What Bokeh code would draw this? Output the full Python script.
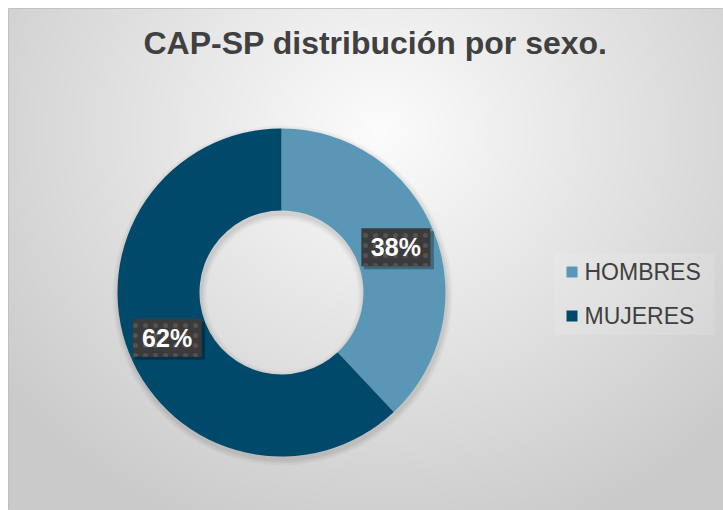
import numpy as np
from bokeh.plotting import figure
from bokeh.models import Range1d, ColumnDataSource
from bokeh.core.properties import value
from bokeh.embed import file_html
from bokeh.resources import INLINE

title_text = "CAP-SP distribución por sexo."
categories = ["HOMBRES", "MUJERES"]
percents = [38, 62]
colors = ["#5A96B5", "#01496A"]
label_texts = [f"{v}%" for v in percents]

W, H = 715, 502
p = figure(width=W + 8, height=H + 8, x_range=Range1d(0, W), y_range=Range1d(0, H),
           output_backend="svg", toolbar_location=None,
           min_border_left=8, min_border_top=8, min_border_right=0, min_border_bottom=0)
p.axis.visible = False
p.grid.visible = False
p.outline_line_color = "#bcbcbc"
p.background_fill_color = "#dcdcdc"
p.border_fill_color = "#ffffff"

# radial gradient background (styling)
yy, xx = np.mgrid[0:H, 0:W]
sx = xx + 8.5
sy = 510 - (yy + 0.5)
d = np.hypot(sx - 380, (sy - 130) * 1.1)
t = np.clip(d / 480.0, 0, 1)
g = (252 - 50 * t).astype(np.uint32)
img = (np.uint32(255) << 24) | (g << 16) | (g << 8) | g
p.image_rgba(image=[img], x=0, y=0, dw=W, dh=H)

# donut
cx, cy = 273, 218
r_in, r_out = 82, 164
frac = np.array(percents, dtype=float) / sum(percents)
cum = np.cumsum(frac)
prev = cum - frac
start = np.pi / 2 - 2 * np.pi * cum
end = np.pi / 2 - 2 * np.pi * prev
mid = (start + end) / 2
rm = (r_in + r_out) / 2
lx = cx + rm * np.cos(mid)
ly = cy + rm * np.sin(mid)

# soft shadow under donut
for k, a in [(6, 0.03), (4, 0.04), (2, 0.05)]:
    p.annulus(x=cx + 1, y=cy - 3, inner_radius=r_in - k, outer_radius=r_out + k,
              fill_color="black", fill_alpha=a, line_color=None)

src = ColumnDataSource(dict(cat=categories, start=start, end=end, color=colors))
p.annular_wedge(x=cx, y=cy, inner_radius=r_in, outer_radius=r_out,
                start_angle="start", end_angle="end", fill_color="color",
                line_color=None, source=src)

# data labels
lsrc = ColumnDataSource(dict(x=lx, y=ly, sx=lx + 3, sy=ly - 3, lab=label_texts))
p.rect(x="sx", y="sy", width=70, height=38, fill_color="black", fill_alpha=0.3,
       line_color=None, source=lsrc)
p.rect(x="x", y="y", width=69, height=38, fill_color="#3b3b3b", line_color=None,
       hatch_pattern="dot", hatch_color="#525252", hatch_scale=10, hatch_weight=1,
       source=lsrc)
p.text(x="x", y="y", text="lab", text_font=value("Liberation Sans"),
       text_font_style="bold", text_font_size="25px", text_color="white",
       text_align="center", text_baseline="middle", source=lsrc)

# legend
leg_x = 563.5
leg_y0, leg_dy = 238.5, 44
leg_ys = [leg_y0 - i * leg_dy for i in range(len(categories))]
p.rect(x=626, y=(leg_ys[0] + leg_ys[-1]) / 2, width=160, height=82,
       fill_color="white", fill_alpha=0.12, line_color=None)
p.scatter(x=[leg_x] * len(categories), y=leg_ys, marker="square", size=11,
          fill_color=colors, line_color=None)
p.text(x=[576] * len(categories), y=leg_ys, text=categories,
       text_font=value("Liberation Sans"), text_font_size="23px",
       text_color="#404040", text_align="left", text_baseline="middle")

# title
p.text(x=[367], y=[468], text=[title_text], text_font=value("Liberation Sans"),
       text_font_style="bold", text_font_size="32px", text_color="#404040",
       text_align="center", text_baseline="middle")

open("out.html", "w").write(file_html(p, INLINE))
